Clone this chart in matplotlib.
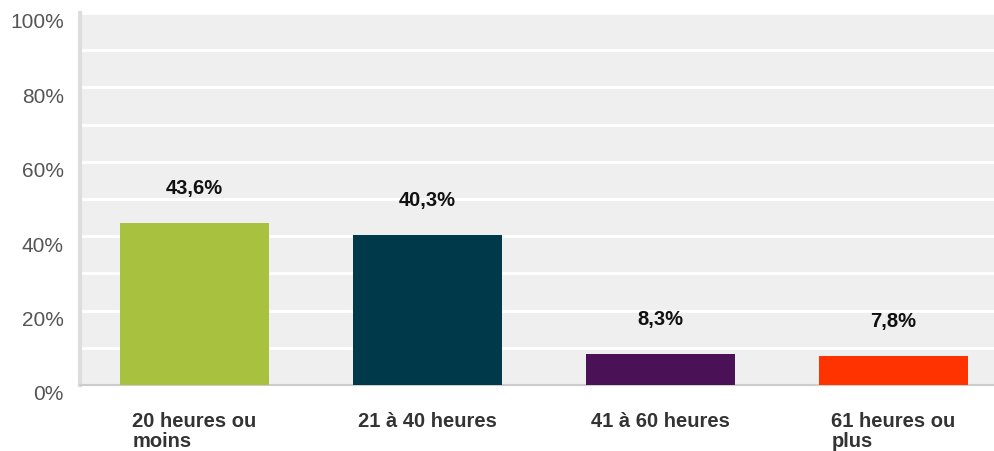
import numpy as np
import matplotlib
matplotlib.use("Agg")
from matplotlib import pyplot as plt
import matplotlib.transforms as mtransforms

  #Donnees

categories = ["20 heures ou\nmoins", "21 à 40 heures", "41 à 60 heures", "61 heures ou\nplus"]
valeurs = [43.6, 40.3, 8.3, 7.8]
etiquettes = ["43,6%", "40,3%", "8,3%", "7,8%"]
couleurs = ["#a8c23f", "#003a4a", "#4a1157", "#ff3300"]
yticks = [0, 20, 40, 60, 80, 100]

plt.rcParams['font.family'] = ['Liberation Sans', 'DejaVu Sans']

fig = plt.figure(figsize=(9.94, 4.52), dpi=100)
ax = fig.add_axes([80 / 994, 1 - 386 / 452, 914 / 994, 372 / 452])
ax.set_facecolor("#efefef")

x = np.arange(len(categories))
ax.bar(x, valeurs, width=0.642, color=couleurs, zorder=3)

  #Etiquettes de valeur

for xi, v, lab in zip(x, valeurs, etiquettes):
    ax.text(xi, v + 9.5, lab, ha='center', va='center', fontsize=14.5,
            fontweight='bold', color='#111111', zorder=4)

ax.set_xlim(-0.491, 3.431)
ax.set_ylim(0, 100)

  #Grille

for g in range(10, 101, 10):
    ax.axhline(g, color='white', lw=2, zorder=1)

  #Axe y (etiquettes decalees vers le bas)

ax.set_yticks([])
decal = mtransforms.ScaledTranslation(-16 / 100, -9 / 100, fig.dpi_scale_trans)
for t in yticks:
    ax.text(0, t, f"{t}%", transform=ax.get_yaxis_transform() + decal,
            ha='right', va='center', fontsize=15, color='#555555', clip_on=False)

ax.set_xticks([])
for xi, cat in zip(x, categories):
    ax.text(xi, -0.07, cat, transform=ax.get_xaxis_transform(), ha='center',
            va='top', multialignment='left', fontsize=14.5, fontweight='bold',
            color='#333333', linespacing=1.05)

for s in ['top', 'right']:
    ax.spines[s].set_visible(False)
ax.spines['left'].set_color('#dddddd')
ax.spines['left'].set_linewidth(3)
ax.spines['bottom'].set_color('#cccccc')
ax.spines['bottom'].set_linewidth(1.5)

plt.savefig('out.png', dpi=100)
